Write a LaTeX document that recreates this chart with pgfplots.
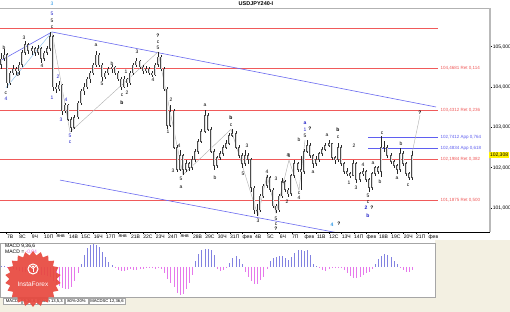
\documentclass[border=0pt]{standalone}
\usepackage{fontspec}
\setmainfont{Liberation Sans}
\usepackage{pgfplots}
\pgfplotsset{compat=1.18}
\usepackage{pgfplotstable}
\usetikzlibrary{shapes.geometric}
\definecolor{fibred}{RGB}{240,90,90}
\definecolor{trendblue}{RGB}{105,105,240}
\definecolor{lightblueline}{RGB}{150,200,240}
\definecolor{wavegrey}{RGB}{175,175,175}
\definecolor{appblue}{RGB}{95,95,240}
\definecolor{lblblue}{RGB}{30,30,200}
\definecolor{lblcyan}{RGB}{40,150,230}
\definecolor{macdpos}{RGB}{130,130,225}
\definecolor{macdneg}{RGB}{230,120,235}
\definecolor{beige}{RGB}{243,240,226}
\definecolor{instared}{RGB}{232,72,62}
\definecolor{bodygrey}{RGB}{225,225,225}
\newcommand{\tf}{\fontsize{5}{6}\selectfont}
\newcommand{\wl}[4]{\node[text=#1,font=\fontsize{5}{5}\selectfont,inner sep=0pt] at (axis cs:#2,#3) {#4};}

\pgfplotstableread{
x o h l c
1 104.55 104.85 104.45 104.70
4 104.70 104.95 104.65 104.80
7 104.80 104.85 103.98 104.10
10 104.10 104.40 104.05 104.35
13 104.35 104.55 104.30 104.45
16 104.45 104.50 104.30 104.40
19 104.40 104.62 104.30 104.55
22 104.55 104.92 104.50 104.85
25 104.85 105.15 104.80 105.05
28 105.05 105.10 104.82 104.90
32 104.90 105.02 104.80 104.95
35 104.95 105.00 104.78 104.85
38 104.85 105.05 104.80 104.95
41 104.95 104.98 104.60 104.70
44 104.70 104.90 104.65 104.85
47 104.85 105.02 104.80 104.95
50 104.95 105.36 104.90 105.25
53 105.25 105.30 103.90 104.00
56 104.00 104.10 103.85 103.95
59 103.95 104.15 103.90 104.05
62 104.05 104.08 103.30 103.40
65 103.40 103.60 103.35 103.55
68 103.55 103.58 103.15 103.20
71 103.20 103.25 102.88 103.00
74 103.00 103.30 102.95 103.25
78 103.25 103.65 103.20 103.60
81 103.60 103.95 103.55 103.90
84 103.90 104.10 103.80 104.00
87 104.00 104.25 103.95 104.20
90 104.20 104.40 104.10 104.35
93 104.35 104.60 104.30 104.55
96 104.55 104.90 104.50 104.80
99 104.80 104.85 104.50 104.55
102 104.55 104.60 104.15 104.25
105 104.25 104.40 104.20 104.35
108 104.35 104.50 104.30 104.45
112 104.45 104.55 104.35 104.50
115 104.50 104.52 104.30 104.35
118 104.35 104.40 104.15 104.20
121 104.20 104.25 103.93 104.00
124 104.00 104.28 103.98 104.20
127 104.20 104.22 104.00 104.10
130 104.10 104.40 104.05 104.35
133 104.35 104.60 104.30 104.55
136 104.55 104.72 104.50 104.65
140 104.65 104.68 104.45 104.50
143 104.50 104.55 104.32 104.40
146 104.40 104.52 104.35 104.45
149 104.45 104.50 104.30 104.35
152 104.35 104.40 104.25 104.30
155 104.30 104.60 104.28 104.55
158 104.55 104.87 104.50 104.75
161 104.75 104.80 104.40 104.45
164 104.45 104.50 103.90 103.95
167 103.95 104.00 102.95 103.05
170 103.05 103.55 103.00 103.40
174 103.40 103.45 102.45 102.50
177 102.50 102.55 101.90 101.95
180 101.95 102.44 101.92 102.30
183 102.30 102.35 101.82 101.95
186 101.95 102.20 101.90 102.10
189 102.10 102.15 101.92 102.00
192 102.00 102.28 101.95 102.20
195 102.20 102.45 102.15 102.40
198 102.40 102.70 102.35 102.65
201 102.65 102.95 102.60 102.90
205 102.90 103.43 102.85 103.30
208 103.30 103.35 102.90 102.95
211 102.95 103.00 102.35 102.40
214 102.40 102.45 101.94 102.05
217 102.05 102.30 102.00 102.25
220 102.25 102.42 102.20 102.35
223 102.35 102.55 102.30 102.50
226 102.50 102.68 102.45 102.60
229 102.60 102.85 102.55 102.80
232 102.80 102.95 102.75 102.85
236 102.85 102.90 102.45 102.50
239 102.50 102.55 102.25 102.30
242 102.30 102.35 101.99 102.10
245 102.10 102.44 102.05 102.30
248 102.30 102.35 102.10 102.20
251 102.20 102.25 101.40 101.50
254 101.50 101.55 100.85 100.95
257 100.95 101.10 100.80 100.95
260 100.95 101.35 100.90 101.30
263 101.30 101.60 101.25 101.55
267 101.55 101.82 101.50 101.75
270 101.75 101.78 101.40 101.45
273 101.45 101.50 101.00 101.05
276 101.05 101.10 100.87 100.95
279 100.95 101.35 100.90 101.30
282 101.30 101.75 101.25 101.65
285 101.65 101.70 101.40 101.45
288 101.45 101.50 101.27 101.35
291 101.35 101.85 101.30 101.80
294 101.80 102.19 101.75 102.10
298 102.10 102.15 101.90 101.95
301 101.95 102.30 101.44 101.90
304 101.90 102.45 101.85 102.40
307 102.40 102.68 102.35 102.55
310 102.55 102.60 102.25 102.30
313 102.30 102.35 102.00 102.10
316 102.10 102.28 102.05 102.20
319 102.20 102.40 102.15 102.35
322 102.35 102.50 102.30 102.45
325 102.45 102.60 102.40 102.55
329 102.55 102.68 102.50 102.60
332 102.60 102.62 102.20 102.25
335 102.25 102.30 102.10 102.20
338 102.20 102.60 102.15 102.50
341 102.50 102.55 102.05 102.10
344 102.10 102.15 101.85 101.90
347 101.90 102.00 101.80 101.85
350 101.85 101.90 101.74 101.80
353 101.80 102.20 101.78 102.10
356 102.10 102.15 101.61 101.70
360 101.70 101.90 101.65 101.85
363 101.85 101.98 101.80 101.90
366 101.90 101.95 101.65 101.70
369 101.70 101.75 101.39 101.50
372 101.50 101.90 101.45 101.85
375 101.85 102.05 101.80 102.00
378 102.00 102.05 101.85 101.90
381 101.90 102.78 101.77 102.50
384 102.50 102.65 102.40 102.50
387 102.50 102.55 102.25 102.30
391 102.30 102.35 102.10 102.15
394 102.15 102.20 102.00 102.05
397 102.05 102.10 101.84 101.95
400 101.95 102.49 101.90 102.35
403 102.35 102.40 102.05 102.10
406 102.10 102.15 101.80 101.85
409 101.85 101.90 101.69 101.75
412 101.75 102.40 101.70 102.30
}\price

\pgfplotstableread{
x m
1 1
4 1
7 -1
10 -1
13 -2
16 -3
19 -4
22 -5
25 -5
28 -6
32 -6
35 -6
38 -7
41 -8
44 -8
47 -9
50 -10
53 -14
56 -17
59 -19
62 -21
65 -22
68 -22
71 -20
74 -14
78 -6
81 3
84 12
87 19
90 22
93 23
96 22
99 20
102 15
105 10
108 5
112 2
115 -1
118 -3
121 -4
124 -4
127 -3
130 -2
133 -3
136 -3
140 -2
143 -2
146 -1
149 -1
152 -1
155 -2
158 -1
161 -2
164 -6
167 -12
170 -16
174 -20
177 -26
180 -28
183 -27
186 -22
189 -16
192 -8
195 6
198 13
201 17
205 18
208 18
211 17
214 12
217 -2
220 -4
223 -3
226 -1
229 4
232 9
236 11
239 8
242 3
245 -5
248 -10
251 -14
254 -17
257 -17
260 -13
263 -10
267 -2
270 6
273 9
276 10
279 11
282 11
285 9
288 7
291 10
294 14
298 17
301 17
304 16
307 17
310 12
313 3
316 1
319 -1
322 -3
325 -4
329 -2
332 -1
335 -1
338 -1
341 -1
344 -3
347 -6
350 -9
353 -11
356 -11
360 -10
363 -8
366 -6
369 -5
372 -2
375 3
378 8
381 11
384 13
387 12
391 10
394 6
397 3
400 -1
403 -3
406 -5
409 -5
412 -3
}\macd

\begin{document}
\begin{tikzpicture}[x=1pt,y=1pt]
\useasboundingbox (0,0) rectangle (510,312);
\fill[white] (0,0) rectangle (510,312);
% beige areas
\fill[beige] (435,0) rectangle (510,72);
\fill[beige] (0,0) rectangle (435,15);
% title
\node[font=\fontsize{5.5}{6}\selectfont\bfseries] at (256,308) {USDJPY240-I};
\draw[gray!60,line width=0.5pt] (0,304) -- (490,304);

% ===== main price axis =====
\begin{axis}[
  at={(0pt,80pt)}, anchor=south west, scale only axis,
  width=490pt, height=224pt,
  xmin=0, xmax=490, ymin=100.402, ymax=105.96,
  axis x line*=bottom, axis y line*=right,
  x axis line style={black, line width=0.5pt},
  y axis line style={gray!55, line width=2pt},
  xtick={6.5,18.9,...,428.2},
  xticklabels={7В,8С,9Ч,10П,янв,14В,15С,16Ч,17П,янв,21В,22С,23Ч,24П,янв,28В,29С,30Ч,31П,фев,4В,5С,6Ч,7П,фев,11В,12С,13Ч,14П,фев,18В,19С,20Ч,21П,фев},
  ytick={101,102,103,104,105},
  yticklabels={{101,000},{102,000},{103,000},{104,000},{105,000}},
  tick style={black, line width=0.4pt}, major tick length=2pt, tick align=outside,
  ticklabel style={font=\tf},
  xticklabel style={anchor=north west, inner sep=0.6pt, xshift=-0.3pt},
  yticklabel style={anchor=west, inner sep=0.6pt},
  clip mode=individual,
]
% fibonacci levels
\addplot[draw=fibred, line width=0.55pt] coordinates {(0,105.464) (438,105.464)};
\addplot[draw=fibred, line width=0.55pt] coordinates {(0,104.4681) (438,104.4681)};
\addplot[draw=fibred, line width=0.55pt] coordinates {(0,103.4312) (438,103.4312)};
\addplot[draw=fibred, line width=0.6pt] coordinates {(0,102.1984) (438,102.1984)};
\addplot[draw=fibred, line width=0.55pt] coordinates {(0,101.1875) (438,101.1875)};
\addplot[draw=appblue, line width=0.55pt] coordinates {(368,102.7412) (438,102.7412)};
\addplot[draw=appblue, line width=0.55pt] coordinates {(368,102.4834) (438,102.4834)};
% trend lines
\addplot[draw=trendblue, line width=0.6pt] coordinates {(0,104.645) (52,105.365) (436,103.504)};
\addplot[draw=lightblueline, line width=0.5pt] coordinates {(6,103.98) (52,105.365)};
\addplot[draw=trendblue, line width=0.6pt] coordinates {(60,101.69) (338,100.38)};
% wave lines
\addplot[draw=wavegrey, line width=0.4pt] coordinates {(52,105.36) (70,102.88) (158,104.87) (183,101.82) (231,102.95) (258,100.80) (267,101.82) (276,100.87) (289,102.19) (299,101.44) (305,102.68)};
\addplot[draw=wavegrey, line width=0.4pt] coordinates {(412,102.35) (420,103.30)};
% wicks
\addplot[draw=none, mark=none, error bars/.cd, y dir=both, y explicit, error mark=none,
  error bar style={draw=black!85, solid, line width=0.4pt}]
  table[x=x, y expr={(\thisrow{h}+\thisrow{l})/2}, y error expr={(\thisrow{h}-\thisrow{l})/2}] {\price};
% bodies
\addplot[draw=none, mark=none, error bars/.cd, y dir=both, y explicit, error mark=none,
  error bar style={draw=black!70, solid, line width=1.6pt}]
  table[x=x, y expr={(\thisrow{o}+\thisrow{c})/2}, y error expr={abs(\thisrow{o}-\thisrow{c})/2+0.006}] {\price};
\addplot[draw=none, mark=none, error bars/.cd, y dir=both, y explicit, error mark=none,
  error bar style={draw=bodygrey, solid, line width=1.0pt}]
  table[x=x, y expr={(\thisrow{o}+\thisrow{c})/2}, y error expr={max(abs(\thisrow{o}-\thisrow{c})/2-0.008,0)}] {\price};
% level labels
\node[anchor=west, text=fibred, font=\fontsize{4.5}{5}\selectfont, inner sep=0.5pt] at (axis cs:440,104.4681) {104,4681 Ret 0,114};
\node[anchor=west, text=fibred, font=\fontsize{4.5}{5}\selectfont, inner sep=0.5pt] at (axis cs:440,103.4312) {103,4312 Ret 0,236};
\node[anchor=west, text=fibred, font=\fontsize{4.5}{5}\selectfont, inner sep=0.5pt] at (axis cs:440,102.1984) {102,1984 Ret 0,382};
\node[anchor=west, text=fibred, font=\fontsize{4.5}{5}\selectfont, inner sep=0.5pt] at (axis cs:440,101.1875) {101,1875 Ret 0,500};
\node[anchor=west, text=appblue, font=\fontsize{4.5}{5}\selectfont, inner sep=0.5pt] at (axis cs:440,102.7412) {102,7412 App 0,764};
\node[anchor=west, text=appblue, font=\fontsize{4.5}{5}\selectfont, inner sep=0.5pt] at (axis cs:440,102.4834) {102,4834 App 0,618};
\node[anchor=west, fill=yellow, font=\tf, inner sep=0.8pt] at (axis cs:489,102.308) {102,308};
\end{axis}

% ===== overlay for wave labels (pixel coordinates) =====
\begin{axis}[
  at={(0pt,80pt)}, anchor=south west, scale only axis,
  width=490pt, height=224pt,
  xmin=0, xmax=490, ymin=8, ymax=232, y dir=reverse,
  hide axis, clip=false,
]
\wl{black}{4}{48}{b}
\wl{black}{6}{93}{c}
\wl{lblblue}{6}{99}{4}
\wl{black}{18}{75}{2}
\wl{black}{24}{38}{3}
\wl{black}{42}{66}{4}
\wl{lblcyan}{52}{4}{3}
\wl{lblblue}{52}{14}{5}
\wl{black}{52}{21}{5}
\wl{black}{52}{27}{c}
\wl{lblblue}{52}{98}{1}
\wl{lblblue}{58}{77}{2}
\wl{lblblue}{61}{120}{3}
\wl{lblblue}{66}{100}{4}
\wl{lblblue}{70}{136}{5}
\wl{lblblue}{70}{142}{c}
\wl{black}{96}{45}{a}
\wl{black}{102}{84}{5}
\wl{black}{112}{64}{b}
\wl{black}{122}{95}{c}
\wl{black}{122}{103}{\bfseries b}
\wl{black}{126}{72}{1}
\wl{black}{127}{93}{2}
\wl{black}{137}{52}{3}
\wl{black}{153}{80}{4}
\wl{black}{158}{36}{\bfseries ?}
\wl{black}{158}{42}{c}
\wl{black}{158}{48}{5}
\wl{black}{168}{132}{1}
\wl{black}{171}{100}{2}
\wl{black}{173}{171}{3}
\wl{black}{179}{146}{4}
\wl{black}{181}{179}{5}
\wl{black}{181}{187}{a}
\wl{black}{205}{105}{a}
\wl{black}{215}{178}{b}
\wl{black}{231}{118}{\bfseries b}
\wl{black}{231}{125}{c}
\wl{black}{243}{174}{5}
\wl{black}{247}{146}{3}
\wl{black}{258}{221}{3}
\wl{black}{267}{172}{4}
\wl{black}{276}{179}{3}
\wl{black}{276}{219}{5}
\wl{black}{276}{224}{c}
\wl{black}{276}{229}{\bfseries ?}
\wl{black}{283}{182}{1}
\wl{black}{287}{202}{2}
\wl{black}{289}{156}{3}
\wl{black}{299}{193}{c}
\wl{black}{299}{198}{4}
\wl{black}{288}{155}{a}
\wl{black}{299}{140}{b}
\wl{lblblue}{305}{123}{\bfseries a}
\wl{lblblue}{305}{130}{1}
\wl{black}{310}{129}{\bfseries ?}
\wl{black}{305}{136}{5}
\wl{black}{313}{172}{a}
\wl{black}{327}{135}{a}
\wl{black}{338}{130}{\bfseries b}
\wl{black}{338}{137}{c}
\wl{black}{354}{146}{2}
\wl{black}{349}{183}{1}
\wl{black}{356}{188}{3}
\wl{black}{363}{165}{4}
\wl{black}{373}{163}{a}
\wl{black}{368}{196}{5}
\wl{black}{368}{202}{c}
\wl{lblblue}{366}{208}{\bfseries 2}
\wl{black}{372}{208}{\bfseries ?}
\wl{lblblue}{368}{216}{\bfseries b}
\wl{black}{380}{182}{b}
\wl{black}{382}{133}{c}
\wl{black}{401}{144}{b}
\wl{black}{397}{178}{a}
\wl{black}{408}{185}{c}
\wl{black}{420}{113}{\bfseries ?}
\wl{lblcyan}{332}{225}{\bfseries 4}
\wl{black}{339}{224}{\bfseries ?}
\end{axis}

% ===== MACD panel =====
\begin{axis}[
  at={(0pt,15pt)}, anchor=south west, scale only axis,
  width=435pt, height=54pt,
  xmin=0, xmax=435, ymin=-30, ymax=24,
  xtick=\empty, ytick=\empty,
  axis line style={gray!70, line width=0.6pt},
]
\addplot[ycomb, draw=macdpos, line width=0.8pt, restrict y to domain=0.5:100] table[x=x, y=m] {\macd};
\addplot[ycomb, draw=macdneg, line width=0.8pt, restrict y to domain=-100:-0.5] table[x=x, y=m] {\macd};
\end{axis}
\node[anchor=west, font=\tf, inner sep=0pt] at (5,66) {MACD 9,36,6};
\node[anchor=west, font=\tf, inner sep=0pt] at (5,60) {MACD = \textcolor{macdneg}{-0,04}};

% ===== tab bar =====
\foreach \a/\b/\t in {3/21/MACD, 22/37/{9,36,6}, 38/64/{Stoch 13,5,3}, 65/88/{80\%-20\%}, 89/125/{MACDSC 12,36,6}}{
  \draw[gray!70, fill=white, line width=0.4pt] (\a,7.5) rectangle (\b,14);
  \node[font=\fontsize{4.2}{5}\selectfont, inner sep=0pt] at ({(\a+\b)/2},10.8) {\t};
}

% ===== logo =====
\node[star, star points=22, star point ratio=1.18, fill=instared, opacity=0.92, minimum size=56pt, inner sep=0pt] at (33,33) {};
\draw[white, line width=1pt] (33,43) circle (5pt);
\fill[white] (33,45.5) circle (1.1pt);
\draw[white, line width=0.9pt] (33,44) -- (33,39.5);
\draw[white, line width=0.7pt] (29.8,46) -- (33,43.5) -- (36.2,46);
\node[text=white, font=\fontsize{6.5}{7}\selectfont] at (33,28) {InstaForex};
\end{tikzpicture}
\end{document}
